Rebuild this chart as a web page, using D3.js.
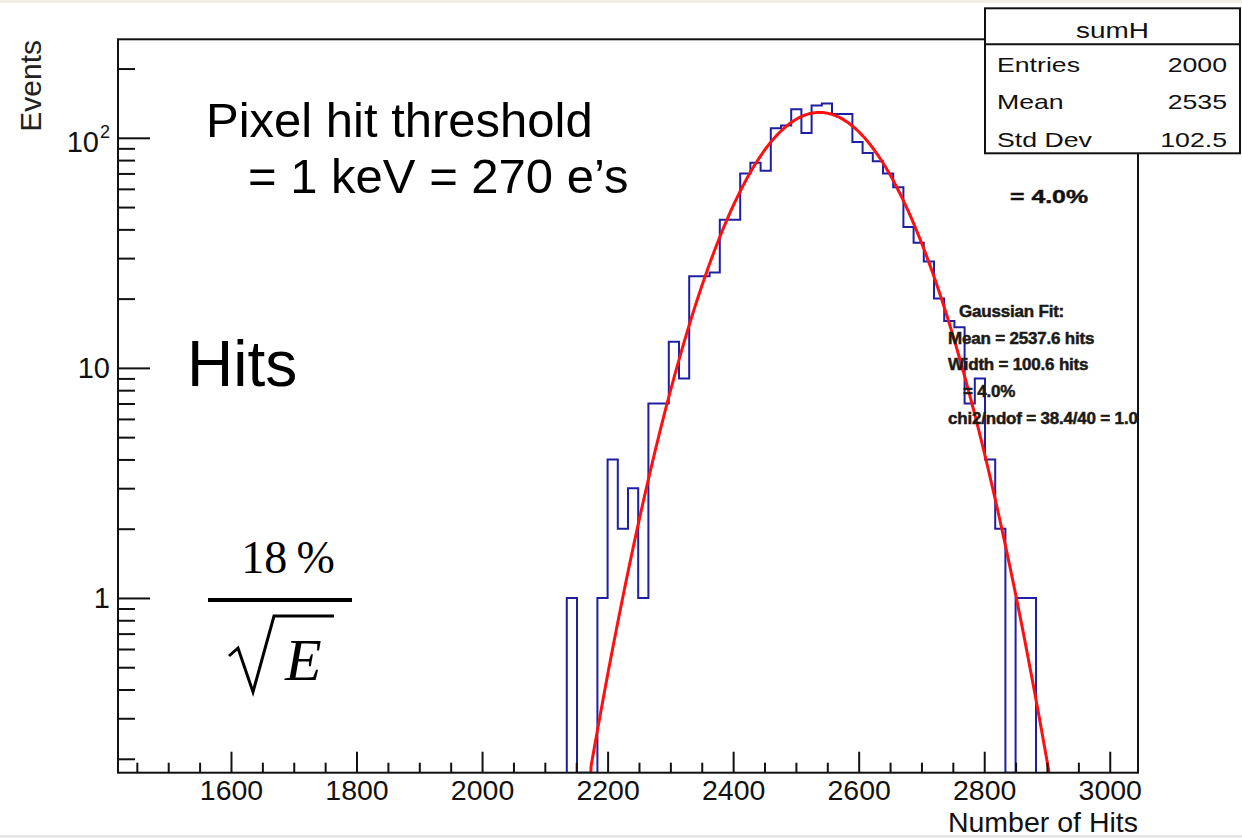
<!DOCTYPE html>
<html>
<head>
<meta charset="utf-8">
<script src="https://cdn.jsdelivr.net/npm/d3@7/dist/d3.min.js"></script>
<style>
  html, body { margin: 0; padding: 0; background: #ffffff; }
  svg { display: block; }
  .sans { font-family: "Liberation Sans", Arial, Helvetica, sans-serif; }
  .serif { font-family: "Liberation Serif", "Times New Roman", serif; }
</style>
</head>
<body>
<svg id="chart" width="1242" height="838"></svg>
<script>
// Histogram "sumH": counts per bin, starting at the first filled bin
const firstBinLow = 2135;
const binWidth = 16.25;
const counts = [1, 0, 0, 1, 4, 2, 3, 1, 7, 7, 13, 9, 25, 25, 26, 44, 44, 70, 78, 72,
                110, 113, 133, 105, 138, 141, 127, 127, 96, 86, 79, 70, 61, 41, 35, 29,
                20, 16, 15, 7, 9, 4, 2, 0, 1, 1];

// Axis ranges and ticks
const xDomain = [1420, 3045];
const yDomain = [0.174, 268];
const xMajorTicks = [1600, 1800, 2000, 2200, 2400, 2600, 2800, 3000];
const xMinorTicks = d3.range(1450, 3045, 50).filter(v => v % 200 !== 0);
const yMajorTicks = [1, 10, 100];
const yMinorTicks = [0.2, 0.3, 0.4, 0.5, 0.6, 0.7, 0.8, 0.9,
                     2, 3, 4, 5, 6, 7, 8, 9,
                     20, 30, 40, 50, 60, 70, 80, 90, 200];

// Gaussian fit parameters
const fitMean = 2537.6;
const fitWidth = 100.6;
const fitConstant = 128.9;

// Statistics box
const statsTitle = "sumH";
const statsRows = [["Entries", "2000"], ["Mean", "2535"], ["Std Dev", "102.5"]];

// Fit annotation lines
const fitLines = ["Gaussian Fit:", "Mean = 2537.6 hits", "Width = 100.6 hits", "= 4.0%", "chi2/ndof = 38.4/40 = 1.0"];

const svg = d3.select("#chart");
const W = 1242, H = 838;
const frame = { left: 118, right: 1138, top: 39.3, bottom: 772.7 };

// faint page edges
svg.append("rect").attr("x", 0).attr("y", 0).attr("width", W).attr("height", 3).attr("fill", "#f1eee7");
svg.append("rect").attr("x", 0).attr("y", 835).attr("width", W).attr("height", 3).attr("fill", "#e9e9e9");

const x = d3.scaleLinear().domain(xDomain).range([frame.left, frame.right]);
const y = d3.scaleLog().domain(yDomain).range([frame.bottom, frame.top]).clamp(true);

svg.append("clipPath").attr("id", "plotClip")
  .append("rect")
  .attr("x", frame.left).attr("y", frame.top)
  .attr("width", frame.right - frame.left).attr("height", frame.bottom - frame.top);

// Histogram outline (step line)
const bins = counts.map((c, i) => ({ lo: firstBinLow + i * binWidth, hi: firstBinLow + (i + 1) * binWidth, c }));
const yOf = c => c > 0 ? y(c) : frame.bottom;
let d = `M${x(bins[0].lo)},${frame.bottom}`;
bins.forEach(b => { d += `V${yOf(b.c)}H${x(b.hi)}`; });
d += `V${frame.bottom}`;
svg.append("path")
  .attr("d", d)
  .attr("fill", "none")
  .attr("stroke", "#1f1fa3")
  .attr("stroke-width", 2)
  .attr("clip-path", "url(#plotClip)");

// Gaussian fit curve
const gauss = v => fitConstant * Math.exp(-0.5 * Math.pow((v - fitMean) / fitWidth, 2));
const samples = d3.range(0, 801).map(i => xDomain[0] + (xDomain[1] - xDomain[0]) * i / 800);
const fitLine = d3.line()
  .x(v => x(v))
  .y(v => { const g = gauss(v); return g > yDomain[0] ? y(g) : frame.bottom + 40; })
  .curve(d3.curveLinear);
svg.append("path")
  .datum(samples)
  .attr("d", fitLine)
  .attr("fill", "none")
  .attr("stroke", "#ff1010")
  .attr("stroke-width", 3)
  .attr("clip-path", "url(#plotClip)");

// Frame
svg.append("rect")
  .attr("x", frame.left).attr("y", frame.top)
  .attr("width", frame.right - frame.left).attr("height", frame.bottom - frame.top)
  .attr("fill", "none").attr("stroke", "#111").attr("stroke-width", 2);

// X axis: major ticks with labels, minor ticks without
const xAxisMajor = d3.axisBottom(x).tickValues(xMajorTicks).tickSizeInner(-21).tickSizeOuter(0).tickPadding(7)
  .tickFormat(d3.format("d"));
const gxM = svg.append("g").attr("transform", `translate(0,${frame.bottom})`).call(xAxisMajor);
gxM.select(".domain").remove();
gxM.selectAll("line").attr("stroke", "#111").attr("stroke-width", 2);
gxM.selectAll("text").attr("class", "sans").attr("font-size", 28.5).attr("fill", "#111");

const xAxisMinor = d3.axisBottom(x).tickValues(xMinorTicks).tickSizeInner(-10).tickSizeOuter(0).tickFormat("");
const gxm = svg.append("g").attr("transform", `translate(0,${frame.bottom})`).call(xAxisMinor);
gxm.select(".domain").remove();
gxm.selectAll("line").attr("stroke", "#111").attr("stroke-width", 2);

// Y axis (log)
const yAxisMajor = d3.axisLeft(y).tickValues(yMajorTicks).tickSizeInner(-32).tickSizeOuter(0).tickPadding(8)
  .tickFormat(v => v === 100 ? "" : d3.format("d")(v));
const gyM = svg.append("g").attr("transform", `translate(${frame.left},0)`).call(yAxisMajor);
gyM.select(".domain").remove();
gyM.selectAll("line").attr("stroke", "#111").attr("stroke-width", 2);
gyM.selectAll("text").attr("class", "sans").attr("font-size", 29).attr("fill", "#111");
gyM.selectAll(".tick").filter(v => v === 100).select("text")
  .attr("dy", "0.47em")
  .call(t => {
    t.append("tspan").text("10");
    t.append("tspan").text("2").attr("font-size", 18).attr("dy", "-0.75em").attr("dx", "1");
  });

const yAxisMinor = d3.axisLeft(y).tickValues(yMinorTicks).tickSizeInner(-17).tickSizeOuter(0).tickFormat("");
const gym = svg.append("g").attr("transform", `translate(${frame.left},0)`).call(yAxisMinor);
gym.select(".domain").remove();
gym.selectAll("line").attr("stroke", "#111").attr("stroke-width", 2);

// Axis titles
svg.append("text").attr("class", "sans")
  .attr("transform", `translate(41,40) rotate(-90)`)
  .attr("text-anchor", "end").attr("font-size", 30).attr("fill", "#222")
  .text("Events");
svg.append("text").attr("class", "sans")
  .attr("x", frame.right).attr("y", 831.5)
  .attr("text-anchor", "end").attr("font-size", 28.5).attr("fill", "#111")
  .text("Number of Hits");

// Statistics box
const box = { x: 985, y: 8.3, w: 255, h: 145 };
svg.append("rect").attr("x", box.x).attr("y", box.y).attr("width", box.w).attr("height", box.h)
  .attr("fill", "#fff").attr("stroke", "#111").attr("stroke-width", 2);
svg.append("line").attr("x1", box.x).attr("x2", box.x + box.w).attr("y1", 44.3).attr("y2", 44.3)
  .attr("stroke", "#111").attr("stroke-width", 2);
const sx = 1.27;
svg.append("text").attr("class", "sans")
  .attr("transform", `translate(1112.5,37.5) scale(${sx},1)`)
  .attr("text-anchor", "middle").attr("font-size", 22).attr("fill", "#111")
  .text(statsTitle);
statsRows.forEach((r, i) => {
  const by = 71.7 + i * 37.6;
  svg.append("text").attr("class", "sans")
    .attr("transform", `translate(997,${by}) scale(${sx},1)`)
    .attr("font-size", 21).attr("fill", "#111").text(r[0]);
  svg.append("text").attr("class", "sans")
    .attr("transform", `translate(1227,${by}) scale(${sx},1)`)
    .attr("text-anchor", "end").attr("font-size", 21).attr("fill", "#111").text(r[1]);
});

// Resolution summary
svg.append("text").attr("class", "sans")
  .attr("transform", `translate(1010,203) scale(1.38,1)`)
  .attr("font-size", 18).attr("font-weight", "bold").attr("fill", "#111")
  .attr("stroke", "#111").attr("stroke-width", 0.4)
  .text("= 4.0%");

// Fit result annotation
const fitX = [959, 948, 948, 963, 948];
const fitY = [317, 344, 370, 397, 424];
fitLines.forEach((s, i) => {
  svg.append("text").attr("class", "sans")
    .attr("x", fitX[i]).attr("y", fitY[i])
    .attr("font-size", 17).attr("font-weight", "bold").attr("fill", "#1c1a16")
    .attr("stroke", "#1c1a16").attr("stroke-width", 0.5)
    .style("letter-spacing", "-0.2px")
    .text(s);
});

// Slide annotations
svg.append("text").attr("class", "sans")
  .attr("x", 206).attr("y", 137).attr("font-size", 49).attr("fill", "#000")
  .text("Pixel hit threshold");
svg.append("text").attr("class", "sans")
  .attr("x", 248).attr("y", 193).attr("font-size", 49).attr("fill", "#000")
  .text("= 1 keV = 270 e\u2019s");
svg.append("text").attr("class", "sans")
  .attr("x", 187).attr("y", 386).attr("font-size", 64).attr("fill", "#000")
  .text("Hits");

// Resolution formula 18 % / sqrt(E)
svg.append("text").attr("class", "serif")
  .attr("x", 288).attr("y", 573).attr("text-anchor", "middle")
  .attr("font-size", 46).attr("fill", "#000")
  .text("18\u2009%");
svg.append("line").attr("x1", 208).attr("x2", 352).attr("y1", 600).attr("y2", 600)
  .attr("stroke", "#000").attr("stroke-width", 4);
svg.append("path")
  .attr("d", "M229,656 L238,648 L253,692 L274,616 L334,616")
  .attr("fill", "none").attr("stroke", "#000").attr("stroke-width", 3).attr("stroke-linejoin", "miter");
svg.append("text").attr("class", "serif")
  .attr("x", 285).attr("y", 680).attr("font-size", 60).attr("font-style", "italic").attr("fill", "#000")
  .text("E");
</script>
</body>
</html>
